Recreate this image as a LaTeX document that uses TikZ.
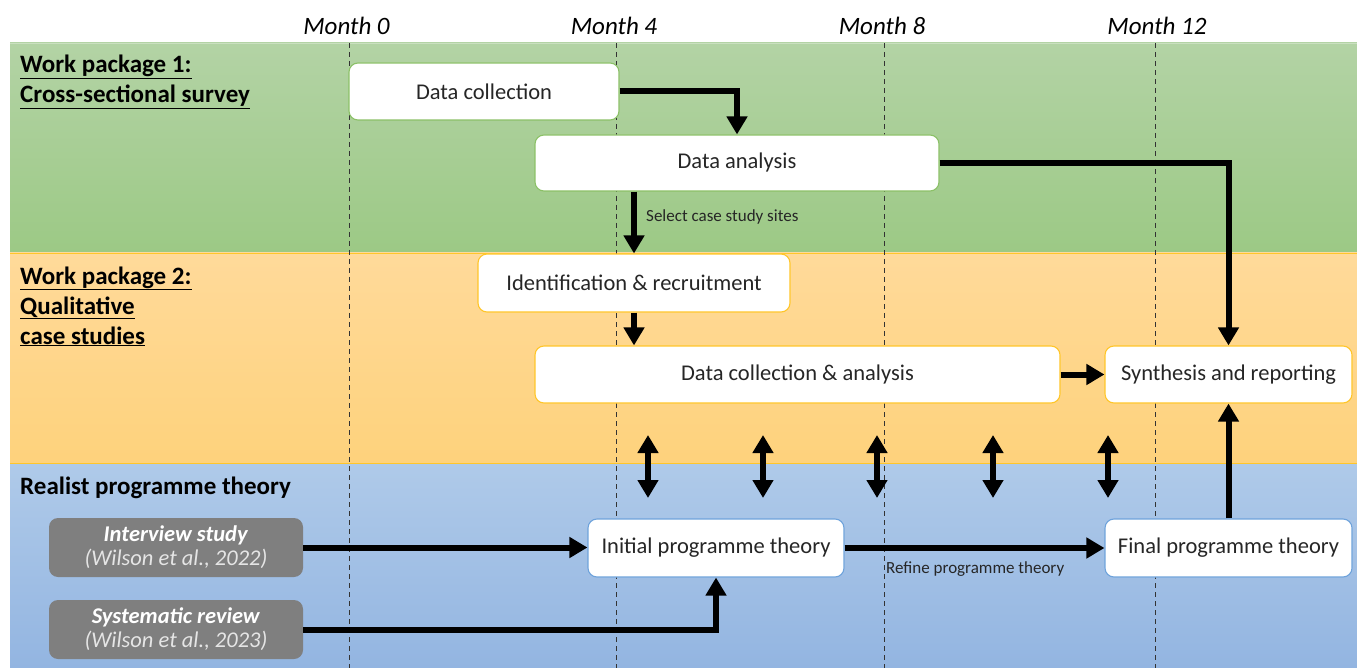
\documentclass[tikz,border=0pt]{standalone}
\usepackage{fontspec}
\setmainfont{Carlito}
\usetikzlibrary{arrows.meta,calc}
\definecolor{gtop}{HTML}{B3D3A5}
\definecolor{gbot}{HTML}{9CC985}
\definecolor{otop}{HTML}{FFDA9A}
\definecolor{obot}{HTML}{FED27C}
\definecolor{btop}{HTML}{AFCAE9}
\definecolor{bbot}{HTML}{93B5E1}
\definecolor{gline}{HTML}{8CC168}
\definecolor{oline}{HTML}{FFC62A}
\definecolor{bline}{HTML}{6FA3DB}
\definecolor{grayfill}{HTML}{7F7F7F}
\definecolor{txt}{HTML}{262626}
\begin{document}
\begin{tikzpicture}[x=1pt,y=-1pt,
  box/.style={draw, rounded corners=9pt, fill=white, line width=1.1pt,
    text=txt, inner sep=0pt, font=\fontsize{22.5}{25}\selectfont},
  gbox/.style={box, draw=gline},
  obox/.style={box, draw=oline},
  bbox/.style={box, draw=bline},
  srcbox/.style={draw=none, rounded corners=9pt, fill=grayfill, text=white,
    inner sep=0pt, align=center, font=\fontsize{22.5}{24}\selectfont,
    minimum width=254pt, minimum height=59pt},
  arr/.style={line width=6pt, -{Triangle[width=20pt,length=18pt]}},
  darr/.style={line width=6pt, {Triangle[width=20pt,length=18pt]}-{Triangle[width=20pt,length=18pt]}},
  month/.style={font=\fontsize{25}{28}\selectfont\itshape, text=black, inner sep=0pt, anchor=base},
  title/.style={font=\fontsize{25}{28}\selectfont\bfseries, text=black, inner sep=0pt, anchor=base west},
  small/.style={font=\fontsize{17}{19}\selectfont, text=txt, inner sep=0pt, anchor=base west},
  vline/.style={dashed, line width=0.9pt, black!80, dash pattern=on 5pt off 4pt}
]
\useasboundingbox (0,0) rectangle (1357,668);
\fill[white] (0,0) rectangle (1357,668);
% bands
\shade[top color=gtop, bottom color=gbot] (10,43) rectangle (1357,253);
\shade[top color=otop, bottom color=obot] (10,253) rectangle (1357,463);
\shade[top color=btop, bottom color=bbot] (10,463) rectangle (1357,668);
\draw[gtop!70!white, line width=0.8pt] (10,43) -- (1357,43);
\draw[oline, line width=0.8pt] (10,253) -- (1357,253);
\draw[oline, line width=0.8pt] (10,463) -- (1357,463);
% month markers
\foreach \x/\m in {349/m0,616/m4,884/m8,1155/m12}{
  \coordinate (\m top) at (\x,43);
  \coordinate (\m bot) at (\x,668);
  \draw[vline] (\m top) -- (\m bot);
}
\node[month] (lm0) at (346.5,35) {Month 0};
\node[month] (lm4) at (614,35) {Month 4};
\node[month] (lm8) at (882,35) {Month 8};
\node[month] (lm12) at (1157,35) {Month 12};
% titles
\node[title] (t1a) at (20,73) {\underline{Work package 1:}};
\node[title] (t1b) at (20,103) {\underline{Cross-sectional survey}};
\node[title] (t2a) at (20,284) {\underline{Work package 2:}};
\node[title] (t2b) at (20,314) {\underline{Qualitative}};
\node[title] (t2c) at (20,344) {\underline{case studies}};
\node[title] (t3) at (20,494) {Realist programme theory};
% boxes
\node[gbox, minimum width=270pt, minimum height=57pt] (dc) at (484,91.5) {Data collection};
\node[gbox, minimum width=404pt, minimum height=56pt] (da) at (737,163) {Data analysis};
\node[obox, minimum width=312pt, minimum height=58pt] (id) at (634,283) {Identification \& recruitment};
\node[obox, minimum width=525pt, minimum height=57pt] (dca) at (797.5,374.5) {Data collection \& analysis};
\node[obox, minimum width=247pt, minimum height=57pt] (syn) at (1228.5,374.5) {Synthesis and reporting};
\node[bbox, minimum width=256pt, minimum height=58pt] (ipt) at (716,548) {Initial programme theory};
\node[bbox, minimum width=247pt, minimum height=58pt] (fpt) at (1228.5,548) {Final programme theory};
\node[srcbox] (is) at (176,547.5) {\textbf{\textit{Interview study}}\\\textcolor{white!90!black}{\textit{(Wilson et al., 2022)}}};
\node[srcbox] (sr) at (176,629.5) {\textbf{\textit{Systematic review}}\\\textcolor{white!90!black}{\textit{(Wilson et al., 2023)}}};
% connectors
\draw[arr] (dc.east) -| (da.north);
\draw[arr] (da.south -| id.north) -- (id.north);
\node[small] (lsel) at (646,222) {Select case study sites};
\draw[arr] (id.south) -- (id.south |- dca.north);
\draw[arr] (da.east) -| (syn.north);
\draw[arr] (dca.east) -- (syn.west);
\draw[arr] (fpt.north) -- (syn.south);
\draw[arr] (is.east) -- (is.east -| ipt.west);
\draw[arr] (sr.east) -| (ipt.south);
\draw[arr] (ipt.east) -- (fpt.west);
\node[small] (lref) at (886,573) {Refine programme theory};
% exchange arrows
\foreach \x [count=\i] in {648,763,877,993,1108}{
  \coordinate (ea\i) at (\x,435);
  \coordinate (eb\i) at (\x,498);
  \draw[darr] (ea\i) -- (eb\i);
}
\end{tikzpicture}
\end{document}
